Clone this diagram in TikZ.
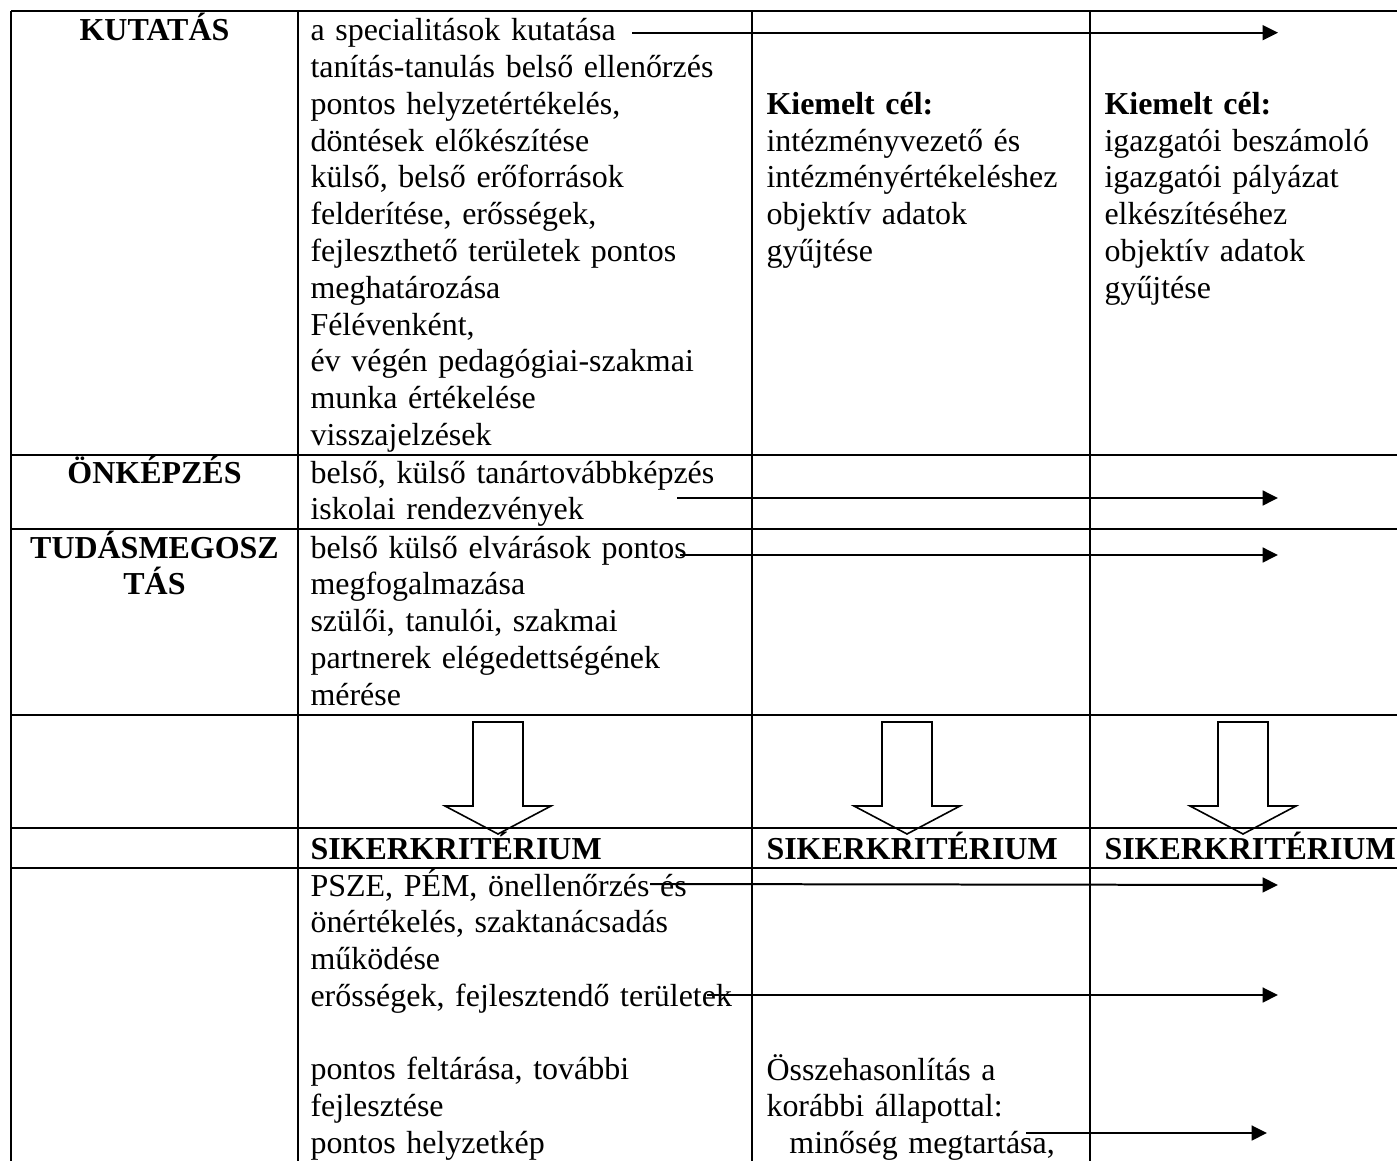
\documentclass[tikz,border=0pt]{standalone}
\usepackage{fontspec}
\setmainfont{Liberation Serif}
\usetikzlibrary{arrows.meta,positioning}

\begin{document}
\begin{tikzpicture}[x=0.3755pt, y=-0.3755pt,
    cell/.style={anchor=base west, inner sep=0pt, text width=330pt, align=left,
        font=\fontsize{12}{13.8}\selectfont},
    head/.style={anchor=base, inner sep=0pt, text width=100pt, align=center,
        font=\fontsize{12}{13.8}\selectfont\bfseries},
    rule/.style={line width=0.75pt},
    flow/.style={line width=0.75pt, -{Triangle[length=5.8pt,width=5.6pt]}},
    bigarrow/.style={line width=0.6pt, line join=miter}]
    \useasboundingbox (0,0) rectangle (1397,1161);

    % table grid
    \foreach \gx in {11,298,752,1090}
        \draw[rule] (\gx,11) -- (\gx,1161);
    \foreach \gy in {11,455,529,715,828,868}
        \draw[rule] (11,\gy) -- (1397,\gy);

    % first column
    \node[head] (kutatas) at (154.5,41) {KUTATÁS};
    \node[head] (onkepzes) at (154.5,483) {ÖNKÉPZÉS};
    \node[head] (tudas) at (154.5,558) {TUDÁSMEGOSZ\\TÁS};

    % second column
    \node[cell] (kut) at (310,41) {a specialitások kutatása\\
        tanítás-tanulás belső ellenőrzés\\
        pontos helyzetértékelés,\\
        döntések előkészítése\\
        külső, belső erőforrások\\
        felderítése, erősségek,\\
        fejleszthető területek pontos\\
        meghatározása\\
        Félévenként,\\
        év végén pedagógiai-szakmai\\
        munka értékelése\\
        visszajelzések};
    \node[cell] (onk) at (310,483) {belső, külső tanártovábbképzés\\
        iskolai rendezvények};
    \node[cell] (tud) at (310,558) {belső külső elvárások pontos\\
        megfogalmazása\\
        szülői, tanulói, szakmai\\
        partnerek elégedettségének\\
        mérése};
    \node[cell, font=\fontsize{12}{13.8}\selectfont\bfseries] (siker2) at (310,859) {SIKERKRITÉRIUM};
    \node[cell] (psze) at (310,896) {PSZE, PÉM, önellenőrzés és\\
        önértékelés, szaktanácsadás\\
        működése\\
        erősségek, fejlesztendő területek\\[13.8pt]
        pontos feltárása, további\\
        fejlesztése\\
        pontos helyzetkép};

    % third column
    \node[cell] (cel3) at (766,114.4) {\textbf{Kiemelt cél:}\\
        intézményvezető és\\
        intézményértékeléshez\\
        objektív adatok\\
        gyűjtése};
    \node[cell, font=\fontsize{12}{13.8}\selectfont\bfseries] (siker3) at (766,859) {SIKERKRITÉRIUM};
    \node[cell] (ossze) at (766,1080) {Összehasonlítás a\\
        korábbi állapottal:\\
        \hspace*{8.6pt}minőség megtartása,};

    % fourth column
    \node[cell] (cel4) at (1104,114.4) {\textbf{Kiemelt cél:}\\
        igazgatói beszámoló\\
        igazgatói pályázat\\
        elkészítéséhez\\
        objektív adatok\\
        gyűjtése};
    \node[cell, font=\fontsize{12}{13.8}\selectfont\bfseries] (siker4) at (1104,859) {SIKERKRITÉRIUM};

    % long arrows
    \coordinate (f1s) at (632,32.7);  \coordinate (f1e) at (1278,32.7);
    \coordinate (f2s) at (677,498);   \coordinate (f2e) at (1278,498);
    \coordinate (f3s) at (680,555);   \coordinate (f3e) at (1278,555);
    \coordinate (f4s) at (650,884);   \coordinate (f4e) at (1278,885);
    \coordinate (f5s) at (707,995);   \coordinate (f5e) at (1278,995);
    \coordinate (f6s) at (1026,1133); \coordinate (f6e) at (1267,1133);
    \draw[flow] (f1s) -- (f1e);
    \draw[flow] (f2s) -- (f2e);
    \draw[flow] (f3s) -- (f3e);
    \draw[flow] (f4s) -- (f4e);
    \draw[flow] (f5s) -- (f5e);
    \draw[flow] (f6s) -- (f6e);

    % hollow down arrows
    \foreach \cx in {498,907,1243}
        \draw[bigarrow] (\cx-25,722) -- (\cx+25,722) -- (\cx+25,806) -- (\cx+53,806)
            -- (\cx,834) -- (\cx-53,806) -- (\cx-25,806) -- cycle;
\end{tikzpicture}
\end{document}
